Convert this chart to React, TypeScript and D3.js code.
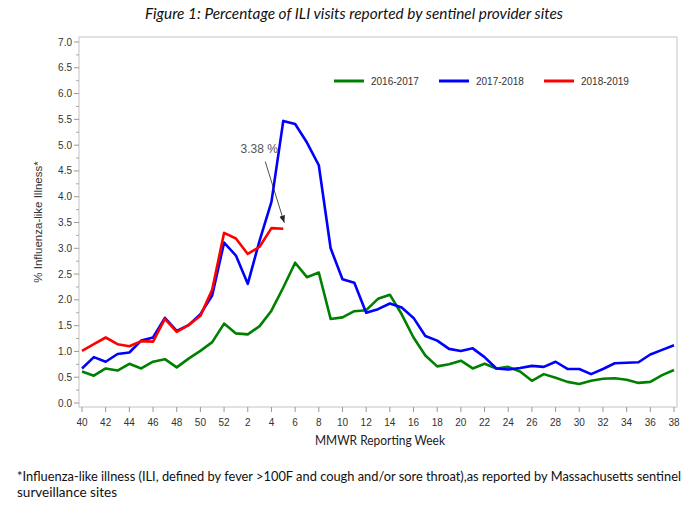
import * as React from 'react';
import * as d3 from 'd3';

// MMWR weeks of the season, week 40 through week 38 of the next year
const weeks: number[] = [
	40, 41, 42, 43, 44, 45, 46, 47, 48, 49, 50, 51, 52,
	1, 2, 3, 4, 5, 6, 7, 8, 9, 10, 11, 12, 13, 14, 15, 16, 17, 18, 19, 20,
	21, 22, 23, 24, 25, 26, 27, 28, 29, 30, 31, 32, 33, 34, 35, 36, 37, 38,
];

const season2016: number[] = [
	0.61, 0.53, 0.67, 0.63, 0.76, 0.67, 0.8, 0.85, 0.69, 0.86, 1.01, 1.18, 1.54,
	1.35, 1.33, 1.49, 1.79, 2.24, 2.72, 2.44, 2.53, 1.63, 1.66, 1.78, 1.8, 2.02, 2.1, 1.72, 1.27, 0.92, 0.71, 0.75, 0.82,
	0.67, 0.76, 0.67, 0.7, 0.61, 0.43, 0.56, 0.49, 0.41, 0.37, 0.43, 0.47, 0.48, 0.45, 0.39, 0.41, 0.54, 0.64,
];

const season2017: number[] = [
	0.67, 0.89, 0.8, 0.95, 0.98, 1.21, 1.27, 1.65, 1.4, 1.51, 1.72, 2.09, 3.11,
	2.86, 2.31, 3.15, 3.9, 5.47, 5.41, 5.05, 4.61, 3.0, 2.4, 2.33, 1.75, 1.82, 1.93, 1.85, 1.65, 1.3, 1.21, 1.05, 1.01,
	1.06, 0.89, 0.67, 0.65, 0.68, 0.72, 0.7, 0.8, 0.66, 0.66, 0.56, 0.66, 0.77, 0.78, 0.79, 0.94, 1.03, 1.12,
];

const season2018: number[] = [
	1.01, 1.14, 1.27, 1.14, 1.1, 1.2, 1.19, 1.63, 1.38, 1.51, 1.69, 2.2, 3.3,
	3.19, 2.89, 3.03, 3.39, 3.38,
];

const seriesNames: string[] = ['2016-2017', '2017-2018', '2018-2019'];
const seriesColors: string[] = ['#008000', '#0000ff', '#ff0000'];
const yTicks: number[] = [0, 0.5, 1, 1.5, 2, 2.5, 3, 3.5, 4, 4.5, 5, 5.5, 6, 6.5, 7];

const W = 684;
const H = 511;
const frame = { left: 79, right: 677, top: 37, bottom: 407 };
const axisFont = '"Liberation Sans", Arial, sans-serif';
const textFont = 'Lato, "Open Sans", sans-serif';

export default function App() {
	const x = d3.scaleLinear().domain([0, weeks.length - 1]).range([82, 674]);
	const y = d3.scaleLinear().domain([0, 7]).range([403, 42]);

	const line = d3
		.line<number>()
		.x((_d, i) => x(i))
		.y((d) => y(d));

	const allSeries = [season2016, season2017, season2018];
	const minorTicks = d3.range(0.25, 7, 0.5);

	// arrow pointing at the latest 2018-2019 value
	const lastIdx = season2018.length - 1;
	const lastVal = season2018[lastIdx];
	const tipX = x(lastIdx) + 1;
	const tipY = y(lastVal) - 6;

	return (
		<svg width={W} height={H} style={{ position: 'absolute', left: 0, top: 0, background: '#fff' }}>
			<defs>
				<marker id="arrowHead" viewBox="0 0 10 10" refX="10" refY="5" markerWidth="9" markerHeight="9" orient="auto">
					<path d="M0,1 L10,5 L0,9 z" fill="#222" />
				</marker>
			</defs>
			<rect width={W} height={H} fill="#fff" />

			<text x={354} y={19} textAnchor="middle" fontFamily={textFont} fontStyle="italic" fontSize={15} fill="#111"
				textLength={418} lengthAdjust="spacingAndGlyphs">
				Figure 1: Percentage of ILI visits reported by sentinel provider sites
			</text>

			<rect x={frame.left} y={frame.top} width={frame.right - frame.left} height={frame.bottom - frame.top}
				fill="none" stroke="#c4c4c4" strokeWidth={1} />

			{/* y axis ticks */}
			{yTicks.map((t) => (
				<g key={'y' + t}>
					<line x1={frame.left - 5} x2={frame.left} y1={y(t)} y2={y(t)} stroke="#999" />
					<text x={frame.left - 7} y={y(t) + 3.5} textAnchor="end" fontFamily={axisFont} fontSize={10} fill="#333">
						{t.toFixed(1)}
					</text>
				</g>
			))}
			{minorTicks.map((t) => (
				<line key={'m' + t} x1={frame.left - 3} x2={frame.left} y1={y(t)} y2={y(t)} stroke="#aaa" />
			))}

			{/* x axis ticks */}
			{weeks.map((w, i) =>
				w % 2 === 0 ? (
					<g key={'x' + i}>
						<line x1={x(i)} x2={x(i)} y1={frame.bottom} y2={frame.bottom + 5} stroke="#999" />
						<text x={x(i)} y={frame.bottom + 19} textAnchor="middle" fontFamily={axisFont} fontSize={10} fill="#333">
							{w}
						</text>
					</g>
				) : null
			)}

			<text x={380} y={445} textAnchor="middle" fontFamily={textFont} fontSize={12.5} fill="#222"
				textLength={130} lengthAdjust="spacingAndGlyphs">
				MMWR Reporting Week
			</text>
			<text transform={`translate(42,${(frame.top + frame.bottom) / 2}) rotate(-90)`} textAnchor="middle"
				fontFamily={axisFont} fontSize={11.5} fill="#333">
				% Influenza-like Illness*
			</text>

			{/* season lines */}
			{allSeries.map((s, k) => (
				<path key={seriesNames[k]} d={line(s) || ''} fill="none" stroke={seriesColors[k]} strokeWidth={2.6}
					strokeLinejoin="round" />
			))}

			{/* legend */}
			{seriesNames.map((n, k) => (
				<g key={'lg' + n} transform={`translate(${334 + k * 105},81)`}>
					<line x1={0} x2={30} y1={0} y2={0} stroke={seriesColors[k]} strokeWidth={3} />
					<text x={37} y={3.5} fontFamily={axisFont} fontSize={10} fill="#333">
						{n}
					</text>
				</g>
			))}

			{/* annotation */}
			<text x={tipX - 25} y={tipY - 70} textAnchor="middle" fontFamily={axisFont} fontSize={12} fill="#555">
				{lastVal.toFixed(2)} %
			</text>
			<line x1={tipX - 19} y1={tipY - 61} x2={tipX} y2={tipY} stroke="#222" strokeWidth={0.8} markerEnd="url(#arrowHead)" />

			{/* footnote */}
			<text x={17} y={481} fontFamily={textFont} fontSize={12.5} fill="#111" textLength={664} lengthAdjust="spacingAndGlyphs">
				*Influenza-like illness (ILI, defined by fever &gt;100F and cough and/or sore throat),as reported by Massachusetts sentinel
			</text>
			<text x={17} y={497} fontFamily={textFont} fontSize={12.5} fill="#111" textLength={100} lengthAdjust="spacingAndGlyphs">
				surveillance sites
			</text>
		</svg>
	);
}
